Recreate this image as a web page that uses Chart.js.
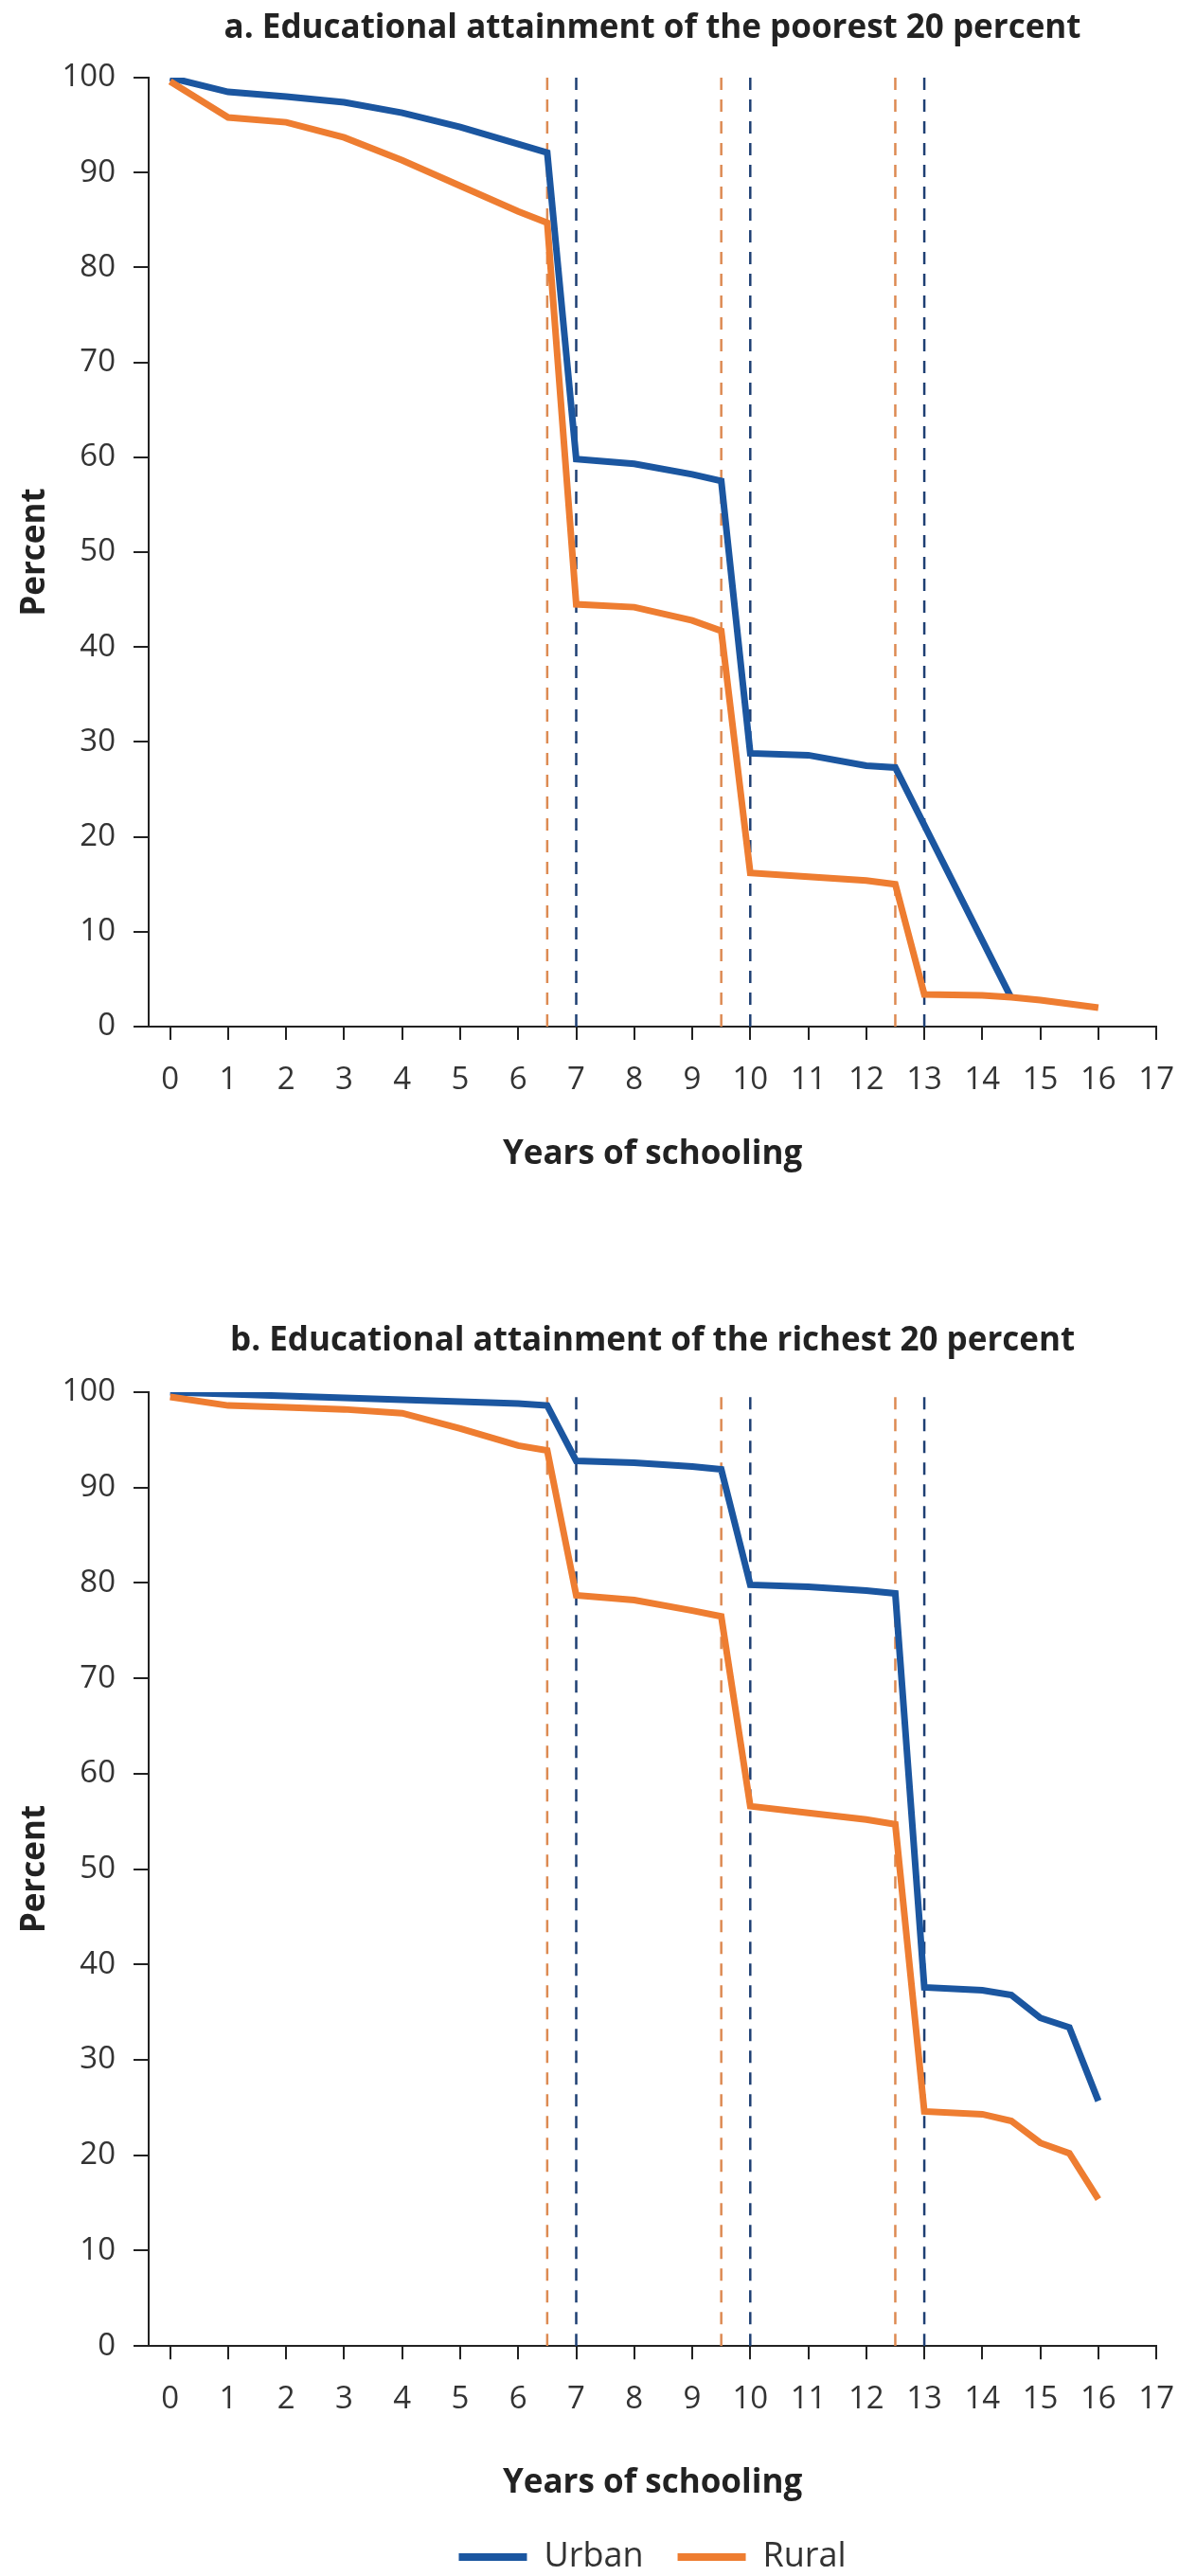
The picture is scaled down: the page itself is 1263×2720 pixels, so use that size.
<!DOCTYPE html>
<html>
<head>
<meta charset="utf-8">
<title>Educational attainment, urban and rural</title>
<script src="https://cdn.jsdelivr.net/npm/chart.js@4.4.1/dist/chart.umd.min.js"></script>
<style>
    html, body { margin: 0; padding: 0; background: #fff; overflow: hidden; }
    canvas { display: block; }
</style>
</head>
<body>
<canvas id="poorestChart" width="1263" height="1290"></canvas>
<canvas id="richestChart" width="1263" height="1438"></canvas>
<script>
// Years of schooling at which the shares were read
var years = [0, 1, 2, 3, 4, 5, 6, 6.5, 7, 8, 9, 9.5, 10, 11, 12, 12.5, 13, 14, 14.5, 15, 15.5, 16];

// a. poorest 20 percent (percent)
var urbanPoorest = [100.0, 98.5, 98.0, 97.4, 96.3, 94.8, 93.0, 92.1, 59.8, 59.3, 58.2, 57.5,
                    28.8, 28.6, 27.5, 27.3, null, null, 3.0, null, null, null];
var ruralPoorest = [99.6, 95.8, 95.3, 93.7, 91.3, 88.6, 85.9, 84.7, 44.5, 44.2, 42.8, 41.7,
                    16.2, 15.8, 15.4, 15.0, 3.4, 3.3, 3.1, 2.8, 2.4, 2.0];

// b. richest 20 percent (percent)
var urbanRichest = [100.0, 99.8, 99.6, 99.4, 99.2, 99.0, 98.8, 98.6, 92.8, 92.6, 92.2, 91.9,
                    79.8, 79.6, 79.2, 78.9, 37.6, 37.3, 36.8, 34.4, 33.4, 25.7];
var ruralRichest = [99.5, 98.6, 98.4, 98.2, 97.8, 96.2, 94.4, 93.9, 78.7, 78.2, 77.1, 76.5,
                    56.6, 55.9, 55.2, 54.7, 24.6, 24.3, 23.6, 21.3, 20.2, 15.4];

// Dashed markers (end of each school cycle)
var ruralCutoffs = [6.5, 9.5, 12.5];
var urbanCutoffs = [7, 10, 13];

var yMin = 0, yMax = 100, yStep = 10;
var xMin = -0.37, xMax = 17;

var blue = '#1b56a0';
var orange = '#ee7d31';
var blueDash = '#1e3f73';
var orangeDash = '#dd8a52';
var axisColor = '#222';

var tickFont = { family: 'Open Sans', size: 33 };
var boldFont = { family: 'Open Sans', size: 35, weight: 'bold' };

function series(values) {
    return years.map(function (x, i) {
        return { x: x, y: values[i] };
    });
}

function cutoffLines(cutoffs, color) {
    return cutoffs.map(function (c) {
        return {
            label: 'cutoff',
            data: [{ x: c, y: yMin }, { x: c, y: yMax }],
            borderColor: color,
            borderWidth: 2.5,
            borderDash: [13, 10],
            pointRadius: 0,
            order: 3
        };
    });
}

function buildChart(id, title, urban, rural, box) {
    var datasets = [
        { label: 'Urban', data: series(urban), borderColor: blue, backgroundColor: blue,
          borderWidth: 7, pointRadius: 0, spanGaps: true, order: 2 },
        { label: 'Rural', data: series(rural), borderColor: orange, backgroundColor: orange,
          borderWidth: 7, pointRadius: 0, spanGaps: true, order: 1 }
    ].concat(cutoffLines(ruralCutoffs, orangeDash), cutoffLines(urbanCutoffs, blueDash));

    return new Chart(document.getElementById(id), {
        type: 'line',
        data: { datasets: datasets },
        options: {
            responsive: false,
            animation: false,
            layout: { padding: { left: 0, right: 29, top: 0, bottom: box.bottom } },
            plugins: {
                title: {
                    display: true,
                    text: title,
                    fullSize: false,
                    color: '#222',
                    font: boldFont,
                    padding: { top: box.titleTop, bottom: box.titleBottom }
                },
                legend: {
                    display: box.legend,
                    position: 'bottom',
                    fullSize: false,
                    labels: {
                        boxWidth: 72,
                        boxHeight: 8,
                        padding: 36,
                        color: '#333',
                        font: { family: 'Open Sans', size: 36 },
                        sort: function (a, b) { return a.datasetIndex - b.datasetIndex; },
                        generateLabels: function (chart) {
                            // only the two series, drawn as flat bars
                            return Chart.defaults.plugins.legend.labels.generateLabels(chart)
                                .filter(function (item) { return item.datasetIndex < 2; })
                                .map(function (item) { item.lineWidth = 0; return item; });
                        }
                    }
                },
                tooltip: { enabled: false }
            },
            scales: {
                x: {
                    type: 'linear',
                    min: xMin,
                    max: xMax,
                    border: { display: true, color: axisColor, width: 2 },
                    grid: { drawOnChartArea: false, tickLength: 14, tickColor: axisColor, lineWidth: 2 },
                    ticks: { stepSize: 1, includeBounds: false, autoSkip: false, maxRotation: 0,
                             padding: 23, color: '#333', font: tickFont },
                    title: { display: true, text: 'Years of schooling', color: '#222', font: boldFont,
                             padding: { top: box.xTitleTop, bottom: box.xTitleBottom } }
                },
                y: {
                    min: yMin,
                    max: yMax,
                    border: { display: true, color: axisColor, width: 2 },
                    grid: { drawOnChartArea: false, tickLength: 16, tickColor: axisColor, lineWidth: 2 },
                    ticks: { stepSize: yStep, padding: 19, color: '#333', font: tickFont },
                    title: { display: true, text: 'Percent', color: '#222', font: boldFont,
                             padding: { top: 16, bottom: 0 } },
                    afterFit: function (scale) { scale.width = 157; }
                }
            }
        }
    });
}

buildChart('poorestChart', 'a. Educational attainment of the poorest 20 percent',
    urbanPoorest, ruralPoorest,
    { bottom: 50.2, titleTop: 9, titleBottom: 31, xTitleTop: 14.2, xTitleBottom: 0, legend: false });

buildChart('richestChart', 'b. Educational attainment of the richest 20 percent',
    urbanRichest, ruralRichest,
    { bottom: 0, titleTop: 105, titleBottom: 33, xTitleTop: 24.7, xTitleBottom: 2.5, legend: true });
</script>
</body>
</html>
